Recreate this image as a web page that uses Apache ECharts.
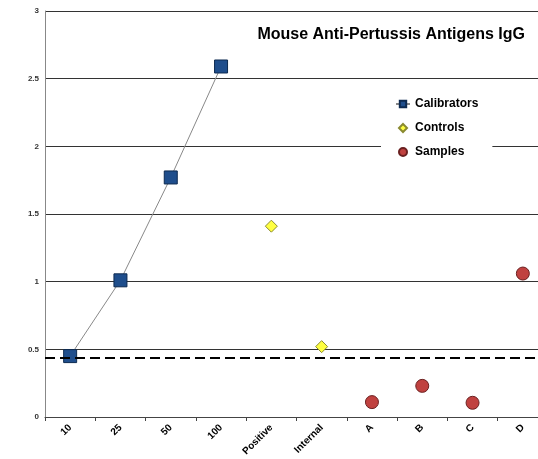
<!DOCTYPE html>
<html>
<head>
<meta charset="utf-8">
<script src="https://cdn.jsdelivr.net/npm/echarts@6/dist/echarts.min.js"></script>
<style>
  html, body { margin: 0; padding: 0; background: #fff; }
  #chart { width: 538px; height: 459px; }
</style>
</head>
<body>
<div id="chart"></div>
<script>
// categories on x axis
const categories = ["10", "25", "50", "100", "Positive", "Internal", "A", "B", "C", "D"];
// values
const calibrators = [0.45, 1.01, 1.77, 2.59, "-", "-", "-", "-", "-", "-"];
const controls = ["-", "-", "-", "-", 1.41, 0.52, "-", "-", "-", "-"];
const samples = ["-", "-", "-", "-", "-", "-", 0.11, 0.23, 0.105, 1.06];
const cutoff = 0.443;
const yTicks = [0, 0.5, 1, 1.5, 2, 2.5, 3];

let myChart = echarts.init(document.getElementById("chart"));

let options = {
  animation: false,
  title: {
    text: "Mouse Anti-Pertussis Antigens IgG",
    right: 8,
    top: 22,
    textStyle: { fontFamily: "Liberation Sans", fontSize: 16, fontWeight: "bold", color: "#000" },
  },
  legend: {
    orient: "vertical",
    left: 381,
    top: 91,
    padding: [6, 14, 8, 14],
    backgroundColor: "#fff",
    itemGap: 10,
    itemWidth: 14,
    itemHeight: 8,
    symbolKeepAspect: true,
    textStyle: { fontFamily: "Liberation Sans", fontSize: 12, fontWeight: "bold", color: "#000", lineHeight: 14 },
    data: [
      { name: "Calibrators" },
      // 小菱形图标，保持比例
      { name: "Controls", icon: "path://M4,0L8,4L4,8L0,4Z" },
      { name: "Samples" },
    ],
  },
  grid: { left: 45, top: 11, width: 503, height: 406, outerBoundsMode: "none" },
  xAxis: {
    type: "category",
    data: categories,
    axisLine: { lineStyle: { color: "#444", width: 1 } },
    axisTick: { show: true, length: 4, lineStyle: { color: "#444" } },
    axisLabel: {
      rotate: 45,
      margin: 9,
      fontFamily: "Liberation Sans",
      fontSize: 10,
      fontWeight: "bold",
      color: "#000",
    },
  },
  yAxis: {
    type: "value",
    min: 0,
    max: 3,
    interval: 0.5,
    axisLine: { show: true, lineStyle: { color: "#888" } },
    axisTick: { show: false },
    axisLabel: {
      fontFamily: "Liberation Sans",
      fontSize: 8,
      fontWeight: "bold",
      color: "#333",
      margin: 6,
      formatter: (v) => (yTicks.includes(v) ? String(v) : ""),
    },
    splitLine: { lineStyle: { color: "#333", width: 1 } },
  },
  series: [
    {
      // dashed cut-off line, drawn under the markers
      name: "cutoff",
      type: "line",
      data: [],
      z: 1,
      markLine: {
        silent: true,
        symbol: "none",
        label: { show: false },
        lineStyle: { color: "#000", type: [10, 5], width: 2 },
        data: [{ yAxis: cutoff }],
      },
    },
    {
      name: "Calibrators",
      type: "line",
      data: calibrators,
      symbol: "rect",
      symbolSize: 13,
      lineStyle: { color: "#888", width: 1 },
      itemStyle: { color: "#1F4E8C", borderColor: "#0D2A50", borderWidth: 1 },
      z: 3,
    },
    {
      name: "Controls",
      type: "scatter",
      data: controls,
      symbol: "diamond",
      symbolSize: 12,
      itemStyle: { color: "#FFFF40", borderColor: "#8A8A30", borderWidth: 1, opacity: 1 },
      z: 3,
    },
    {
      name: "Samples",
      type: "scatter",
      data: samples,
      symbol: "circle",
      symbolSize: 13,
      itemStyle: { color: "#C0413F", borderColor: "#6A2020", borderWidth: 1, opacity: 1 },
      z: 3,
    },
  ],
};

options && myChart.setOption(options);
window.onresize = myChart.resize;
</script>
</body>
</html>
